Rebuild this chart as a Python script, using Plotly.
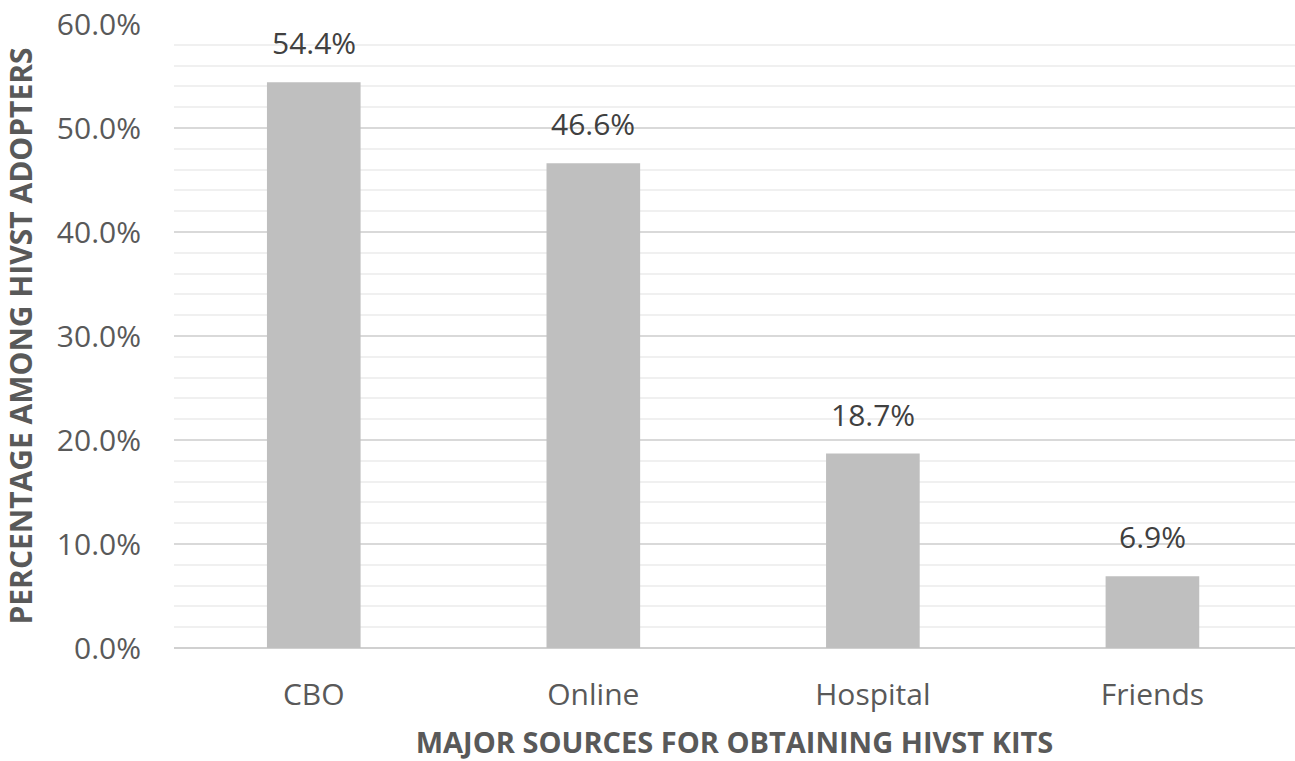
import plotly.graph_objects as go

categories = ["CBO", "Online", "Hospital", "Friends"]
values = [54.4, 46.6, 18.7, 6.9]
label_texts = ["54.4%", "46.6%", "18.7%", "6.9%"]
y_tick_vals = [0, 10, 20, 30, 40, 50, 60]
y_tick_text = ["0.0%", "10.0%", "20.0%", "30.0%", "40.0%", "50.0%", "60.0%"]

FONT = "Open Sans, Noto Sans, DejaVu Sans, sans-serif"
TXT = "#595959"

fig = go.Figure()
fig.add_trace(go.Bar(
    x=categories, y=values,
    marker=dict(color="#bfbfbf", line=dict(width=0)),
    hoverinfo="skip",
))

for c, v, t in zip(categories, values, label_texts):
    fig.add_annotation(x=c, y=v, text=t, showarrow=False, yanchor="bottom",
                       yshift=17, font=dict(family=FONT, size=30, color="#404040"))

fig.update_layout(
    width=1295, height=761,
    margin=dict(l=174, r=0, t=24, b=113),
    paper_bgcolor="white", plot_bgcolor="white",
    bargap=0.665,
    showlegend=False,
    font=dict(family=FONT, color=TXT),
)
fig.update_xaxes(
    range=[-0.5, 3.51],
    showgrid=False, showline=False, zeroline=False,
    ticks="", ticklabelstandoff=26,
    tickfont=dict(size=30, color=TXT),
    title=dict(text="<b>MAJOR SOURCES FOR OBTAINING HIVST KITS</b>",
               font=dict(size=29, color=TXT), standoff=22),
)
fig.update_yaxes(
    range=[0, 60],
    tickvals=y_tick_vals, ticktext=y_tick_text,
    tickfont=dict(size=30, color=TXT),
    showgrid=True, gridcolor="#d9d9d9", gridwidth=2,
    minor=dict(dtick=2, showgrid=True, gridcolor="#f0f0f0", gridwidth=2),
    zeroline=True, zerolinecolor="#d0d0d0", zerolinewidth=2,
    showline=False, ticks="", ticklabelstandoff=32,
    title=dict(text="<b>PERCENTAGE AMONG HIVST ADOPTERS</b>",
               font=dict(size=30, color=TXT), standoff=20),
)

fig.write_html("out.html")
